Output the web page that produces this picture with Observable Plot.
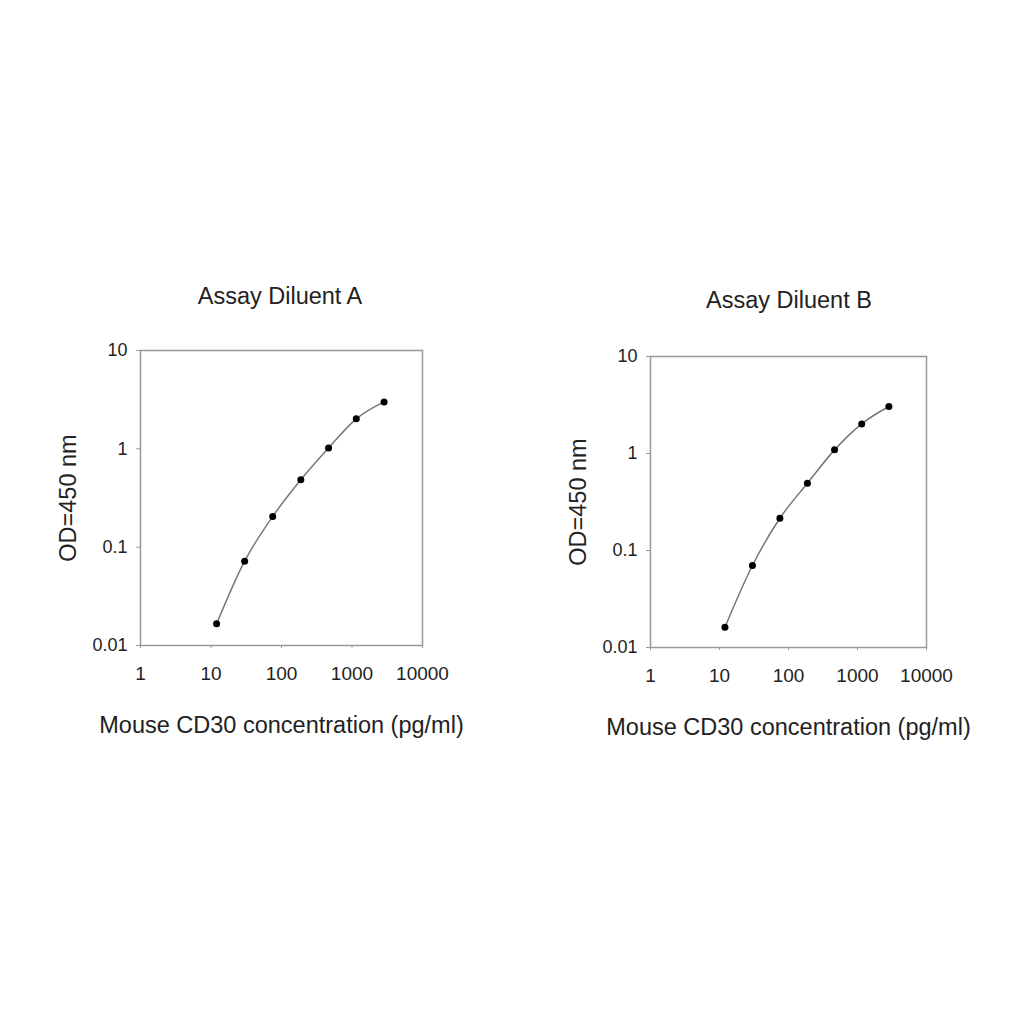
<!DOCTYPE html>
<html>
<head>
<meta charset="utf-8">
<script src="https://cdn.jsdelivr.net/npm/d3@7"></script>
<script src="https://cdn.jsdelivr.net/npm/@observablehq/plot@0.6"></script>
<style>
  html, body { margin: 0; padding: 0; background: #fff; }
  #root { position: relative; width: 1024px; height: 1024px; font-family: "Liberation Sans", Arial, sans-serif; color: #222; }
  .title { position: absolute; font-size: 23.5px; line-height: 28px; text-align: center; width: 300px; }
  .panel { position: absolute; }
</style>
</head>
<body>
<div id="root"></div>
<script>
// Data
const titles = ["Assay Diluent A", "Assay Diluent B"];
const concentration = [12, 30, 75, 188, 465, 1150, 2850];
const odDiluentA = [0.0166, 0.072, 0.205, 0.485, 1.02, 2.02, 3.0];
const odDiluentB = [0.0162, 0.070, 0.215, 0.494, 1.09, 2.02, 3.05];
const xTicks = [1, 10, 100, 1000, 10000];
const yTicks = [0.01, 0.1, 1, 10];
const xLabel = "Mouse CD30 concentration (pg/ml)";
const yLabel = "OD=450 nm";

const root = document.getElementById("root");

function makePanel(values, opts) {
  const data = concentration.map((c, i) => ({conc: c, od: values[i]}));
  const frameW = opts.frameW, frameH = opts.frameH;
  const mL = 100, mR = 60, mT = 20, mB = 100;
  const chart = Plot.plot({
    width: mL + frameW + mR,
    height: mT + frameH + mB,
    marginLeft: mL, marginRight: mR, marginTop: mT, marginBottom: mB,
    style: {fontFamily: "'Liberation Sans', Arial, sans-serif", fontSize: "18px", color: "#222", background: "transparent"},
    x: {type: "log", domain: [1, 10000]},
    y: {type: "log", domain: [0.01, 10]},
    marks: [
      Plot.frame({stroke: "#999", strokeWidth: 1.5}),
      Plot.axisX({ticks: xTicks, tickFormat: d => String(d), tickSize: 3, tickPadding: 18, stroke: "#999",
        label: xLabel, labelAnchor: "center", labelOffset: 87, labelArrow: "none", fontSize: 19, fill: "#222"}),
      Plot.axisY({ticks: yTicks, tickFormat: d => String(d), tickSize: 4, tickPadding: 9, stroke: "#999",
        label: yLabel, labelAnchor: "center", labelOffset: 81, labelArrow: "none", fontSize: 18, fill: "#222"}),
      Plot.line(data, {x: "conc", y: "od", curve: "monotone-x", stroke: "#777", strokeWidth: 1.5}),
      Plot.dot(data, {x: "conc", y: "od", r: 3.5, fill: "#000", stroke: "none"})
    ]
  });
  // enlarge axis labels
  chart.querySelectorAll('[aria-label="x-axis label"] text, [aria-label="y-axis label"] text').forEach(t => t.setAttribute("font-size", "23.5"));
  const wrap = document.createElement("div");
  wrap.className = "panel";
  wrap.style.left = opts.left + "px";
  wrap.style.top = opts.top + "px";
  wrap.appendChild(chart);
  root.appendChild(wrap);

  const t = document.createElement("div");
  t.className = "title";
  t.textContent = opts.title;
  t.style.left = (opts.titleX - 150) + "px";
  t.style.top = (opts.titleY - 14) + "px";
  root.appendChild(t);
}

makePanel(odDiluentA, {left: 40, top: 330, frameW: 282, frameH: 295, title: titles[0], titleX: 280, titleY: 296});
makePanel(odDiluentB, {left: 550, top: 336, frameW: 276, frameH: 291, title: titles[1], titleX: 789, titleY: 300});
</script>
</body>
</html>
